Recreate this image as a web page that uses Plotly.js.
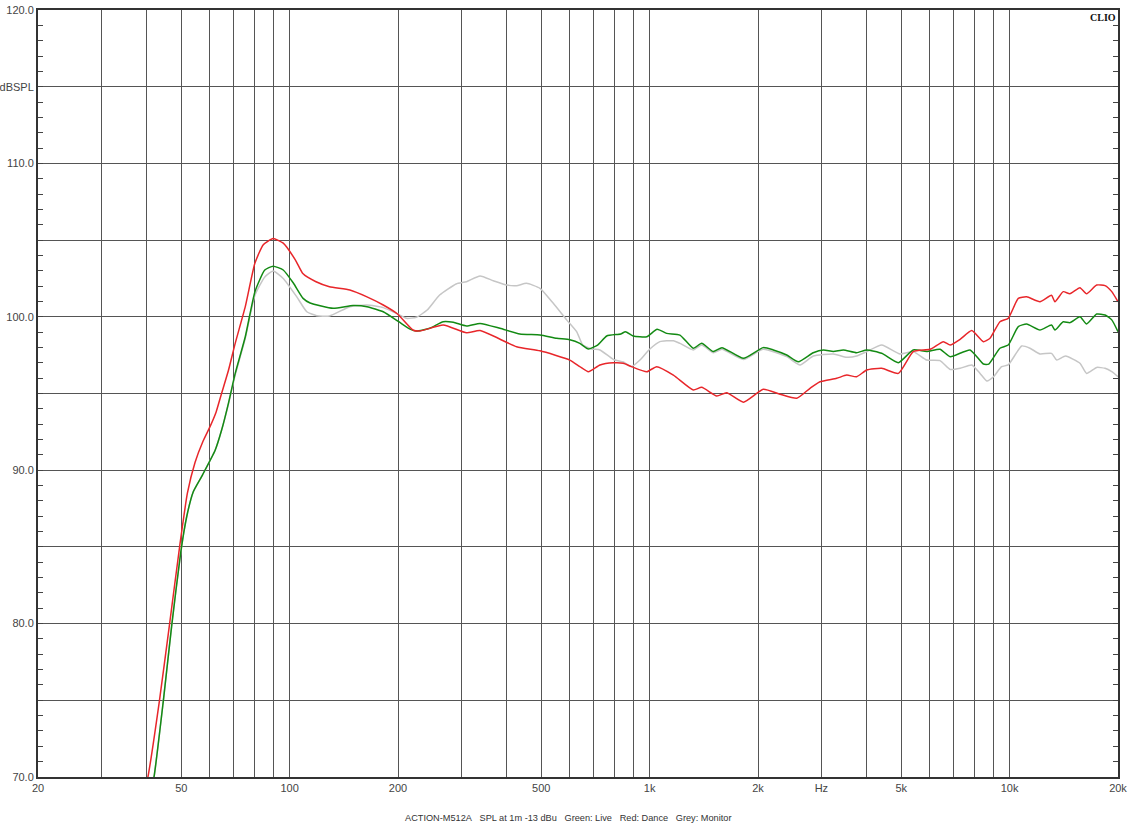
<!DOCTYPE html>
<html>
<head>
<meta charset="utf-8">
<script src="https://cdn.plot.ly/plotly-3.0.1.min.js"></script>
<style>html,body{margin:0;padding:0;background:#fff;}#chart{width:1129px;height:828px;}</style>
</head>
<body>
<div id="chart"></div>
<script>
// Red: Dance
const danceFreq = [39.5,40.4,43.5,46.3,49.6,52,54.6,57.5,60.1,62.5,64.7,67.6,70.6,75.3,80.1,84.5,90,96,103.8,109,118,129,147,164,182,199,220,230,267,310,338,427,496,600,640,676,728,793,845,891,982,1046,1164,1322,1395,1536,1637,1822,2068,2303,2563,2789,2973,3308,3527,3758,4009,4413,4908,5399,6010,6546,6836,7286,7849,8454,8820,9399,9911,10570,11150,12140,13070,13360,14090,14700,15680,16360,17450,18410,19220,20000];
const danceDb = [69,70,75.0,79.8,85.2,88.5,90.5,91.9,92.84,93.8,95.0,96.5,98.27,100.66,103.5,104.7,105.1,104.8,103.7,102.8,102.3,101.96,101.75,101.3,100.77,100.2,99.14,99.07,99.47,98.96,99.1,98.05,97.78,97.18,96.75,96.42,96.86,97.0,96.97,96.75,96.42,96.75,96.2,95.23,95.4,94.84,95.05,94.43,95.27,94.95,94.69,95.34,95.77,95.99,96.2,96.09,96.53,96.64,96.31,97.73,97.88,98.38,98.16,98.53,99.1,98.38,98.6,99.68,99.9,101.2,101.3,100.98,101.4,100.98,101.64,101.5,101.9,101.5,102.07,102.03,101.64,100.98];

// Green: Live
const liveFreq = [41,42,44.6,47.0,49.8,51.8,54.0,57.3,62.1,64.7,67.6,70.6,75.3,80.1,85.3,90,96,102.4,109,114,132,150,164,182,201,216,225,245,267,285,310,338,384,436,496,552,600,640,676,717,760,831,857,900,982,1049,1115,1214,1322,1395,1503,1588,1822,2068,2206,2403,2589,2848,3040,3238,3452,3758,4009,4413,4908,5399,5884,6406,6836,7764,8454,8750,9399,9911,10570,11150,12140,13070,13360,14090,14700,15680,16360,17450,18410,19220,20000];
const liveDb = [69,70,75.0,79.8,84.6,87.0,88.6,89.7,91.3,92.6,94.36,96.31,98.7,101.64,103.05,103.3,103.05,102.2,101.2,100.9,100.55,100.73,100.66,100.33,99.68,99.2,99.07,99.25,99.68,99.64,99.4,99.57,99.25,98.88,98.81,98.6,98.5,98.27,97.9,98.16,98.75,98.88,99.03,98.75,98.7,99.19,98.92,98.81,97.95,98.27,97.73,97.99,97.29,97.99,97.84,97.51,97.07,97.66,97.84,97.73,97.84,97.66,97.84,97.62,97.01,97.84,97.73,97.88,97.4,97.84,96.92,96.92,97.95,98.16,99.36,99.53,99.14,99.47,99.14,99.68,99.62,100.0,99.53,100.18,100.12,99.8,99.03];

// Grey: Monitor
const monitorFreq = [41,42,44.6,47.0,49.8,51.8,54,57.3,62.1,64.7,67.6,70.6,75.3,80.1,85.3,90,96,104.7,111.6,118.9,129,147,164,182,199,211,225,241,261,290,310,338,368,401,427,455,496,540,588,627,652,690,728,793,845,891,940,1000,1068,1164,1214,1322,1395,1503,1588,1822,2068,2403,2617,2848,3238,3527,3758,4009,4413,4962,5399,5884,6406,6836,7286,7849,8275,8650,9018,9502,9911,10800,11390,12140,13070,13510,14300,15680,16360,17450,18410,19220,20000];
const monitorDb = [69,70,75.0,79.8,84.6,87.0,88.6,89.7,91.3,92.6,94.3,96.2,98.6,101.4,102.6,102.99,102.5,101.3,100.33,100.07,100.05,100.66,100.77,100.6,100.2,99.9,99.97,100.44,101.42,102.14,102.29,102.66,102.35,102.07,102.03,102.18,101.86,100.88,99.8,99.03,98.16,97.9,97.84,97.22,97.05,96.75,97.18,97.88,98.38,98.44,98.27,97.84,98.16,97.66,97.88,97.22,97.88,97.4,96.86,97.44,97.58,97.36,97.44,97.73,98.16,97.58,97.73,97.18,97.14,96.57,96.64,96.86,96.31,95.81,96.09,96.75,96.86,98.1,97.95,97.58,97.62,97.18,97.44,96.97,96.31,96.7,96.64,96.42,96.09];

const xTickVals = [20,30,40,50,60,70,80,90,100,200,300,400,500,600,700,800,900,1000,2000,3000,4000,5000,6000,7000,8000,9000,10000,20000];
const xTickText = ['20','','','50','','','','','100','200','','','500','','','','','1k','2k','Hz','','5k','','','','','10k','20k'];
const yTickVals = [70,75,80,85,90,95,100,105,110,115,120];
const yTickText = ['70.0','','80.0','','90.0','','100.0','','110.0','dBSPL','120.0'];

const lineOpts = (c) => ({color: c, width: 1.5, shape: 'spline', smoothing: 0.5});
const traces = [
  {x: monitorFreq, y: monitorDb, type: 'scatter', mode: 'lines', name: 'Monitor', line: lineOpts('#c6c6c6')},
  {x: liveFreq, y: liveDb, type: 'scatter', mode: 'lines', name: 'Live', line: lineOpts('#138a13')},
  {x: danceFreq, y: danceDb, type: 'scatter', mode: 'lines', name: 'Dance', line: lineOpts('#e8262a')}
];

const sp = '\u00a0\u00a0\u00a0';
const layout = {
  width: 1129, height: 828,
  margin: {l: 38, r: 11, t: 10, b: 51},
  paper_bgcolor: '#ffffff', plot_bgcolor: '#ffffff',
  showlegend: false,
  font: {family: 'Liberation Sans, Arial, sans-serif', size: 11, color: '#444'},
  xaxis: {
    type: 'log', range: [Math.log10(20), Math.log10(20000)],
    tickmode: 'array', tickvals: xTickVals, ticktext: xTickText,
    showgrid: true, gridcolor: '#555', gridwidth: 1,
    showline: true, linecolor: '#333', linewidth: 2, mirror: true,
    ticks: '', zeroline: false,
    tickfont: {size: 11, color: '#444'}
  },
  yaxis: {
    range: [70, 120],
    tickmode: 'array', tickvals: yTickVals, ticktext: yTickText,
    showgrid: true, gridcolor: '#555', gridwidth: 1,
    showline: true, linecolor: '#333', linewidth: 2, mirror: 'allticks',
    ticks: 'inside', ticklen: 5, tickcolor: '#444',
    minor: {dtick: 1, tickmode: 'linear', tick0: 70, ticks: 'inside', ticklen: 5, tickcolor: '#444', showgrid: false},
    zeroline: false,
    tickfont: {size: 11, color: '#444'}
  },
  annotations: [
    {xref: 'paper', yref: 'paper', x: 1, y: 1, xanchor: 'right', yanchor: 'top', xshift: 0, yshift: 0,
     text: '<b>CLIO</b>', showarrow: false, font: {family: 'Liberation Serif, Times New Roman, serif', size: 10, color: '#111'}},
    {xref: 'paper', yref: 'paper', x: 0.4907, y: -0.0535, xanchor: 'center', yanchor: 'middle',
     text: 'ACTION-M512A' + sp + 'SPL at 1m -13 dBu' + sp + 'Green: Live' + sp + 'Red: Dance' + sp + 'Grey: Monitor',
     showarrow: false, font: {family: 'Liberation Sans, Arial, sans-serif', size: 9.2, color: '#333'}}
  ]
};

Plotly.newPlot('chart', traces, layout, {displayModeBar: false, staticPlot: true});
</script>
</body>
</html>
